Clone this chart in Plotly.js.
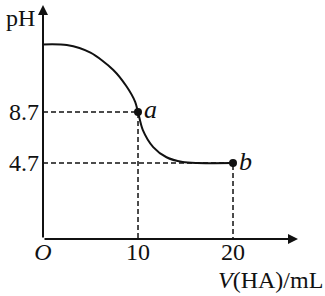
<!DOCTYPE html>
<html>
<head>
<meta charset="utf-8">
<script src="https://cdn.plot.ly/plotly-3.0.1.min.js"></script>
<style>html,body{margin:0;padding:0;background:#fff;}#chart{width:325px;height:296px;}</style>
</head>
<body>
<div id="chart"></div>
<script>
// Data
const curveX = [0, 2.5, 5, 7.4, 8.8, 9.7, 10, 10.5, 11.6, 13, 14.7, 16.2, 20];
const curveY = [14.0, 13.95, 13.35, 12.0, 10.7, 9.5, 8.7, 7.3, 5.95, 5.15, 4.78, 4.7, 4.7];
const pointNames = ['a', 'b'];
const pointX = [10, 20];
const pointY = [8.7, 4.7];
const xTickVals = [0, 10, 20];
const xTickText = ['<i>O</i>', '10', '20'];
const yTickVals = [4.7, 8.7];
const yTickText = ['4.7', '8.7'];
const yLabel = 'pH';
const xLabel = '<i>V</i>(HA)/mL';

const xMax = 26.84, yMin = -1.26, yMax = 17.09;
const serif = 'Liberation Serif, Times New Roman, serif';
const fs = 24;

const traces = [];
// dashed guide lines
pointX.forEach((px, i) => {
  traces.push({
    x: [0, px, px], y: [pointY[i], pointY[i], yMin],
    mode: 'lines', line: {color: '#111', width: 1.5, dash: '5px,3px'},
    hoverinfo: 'skip', showlegend: false, cliponaxis: false
  });
});
traces.push({
  x: curveX, y: curveY, mode: 'lines',
  line: {color: '#111', width: 2, shape: 'spline', smoothing: 0.8},
  showlegend: false
});
traces.push({
  x: pointX, y: pointY, mode: 'markers+text',
  marker: {color: '#111', size: 8},
  text: pointNames.map(n => '<i>' + n + '</i>'),
  textposition: 'middle right',
  textfont: {family: serif, size: 26, color: '#111'},
  showlegend: false, cliponaxis: false
});

const layout = {
  width: 325, height: 296,
  margin: {l: 43, r: 27, t: 5, b: 57},
  paper_bgcolor: '#fff', plot_bgcolor: '#fff',
  font: {family: serif, color: '#111'},
  xaxis: {
    range: [0, xMax], showgrid: false, zeroline: false, showline: false,
    tickvals: xTickVals, ticktext: xTickText, ticks: '',
    tickfont: {family: serif, size: fs, color: '#111'}, ticklabelstandoff: -4
  },
  yaxis: {
    range: [yMin, yMax], showgrid: false, zeroline: false, showline: false,
    tickvals: yTickVals, ticktext: yTickText, ticks: '',
    tickfont: {family: serif, size: fs, color: '#111'}, ticklabelstandoff: 3
  },
  annotations: [
    {x: xMax, y: yMin, ax: 0, ay: yMin, xref: 'x', yref: 'y', axref: 'x', ayref: 'y',
     showarrow: true, arrowhead: 2, arrowsize: 1, arrowwidth: 2, arrowcolor: '#111', text: ''},
    {x: 0, y: yMax, ax: 0, ay: yMin, xref: 'x', yref: 'y', axref: 'x', ayref: 'y',
     showarrow: true, arrowhead: 2, arrowsize: 1, arrowwidth: 2, arrowcolor: '#111', text: ''},
    {x: -0.09, y: 1.01, xref: 'paper', yref: 'paper', xanchor: 'center', yanchor: 'top',
     text: yLabel, showarrow: false, font: {family: serif, size: fs, color: '#111'}},
    {x: 1.106, y: -0.175, xref: 'paper', yref: 'paper', xanchor: 'right', yanchor: 'middle',
     text: xLabel, showarrow: false, font: {family: serif, size: fs, color: '#111'}}
  ]
};

Plotly.newPlot('chart', traces, layout, {staticPlot: true, displayModeBar: false});
</script>
</body>
</html>
